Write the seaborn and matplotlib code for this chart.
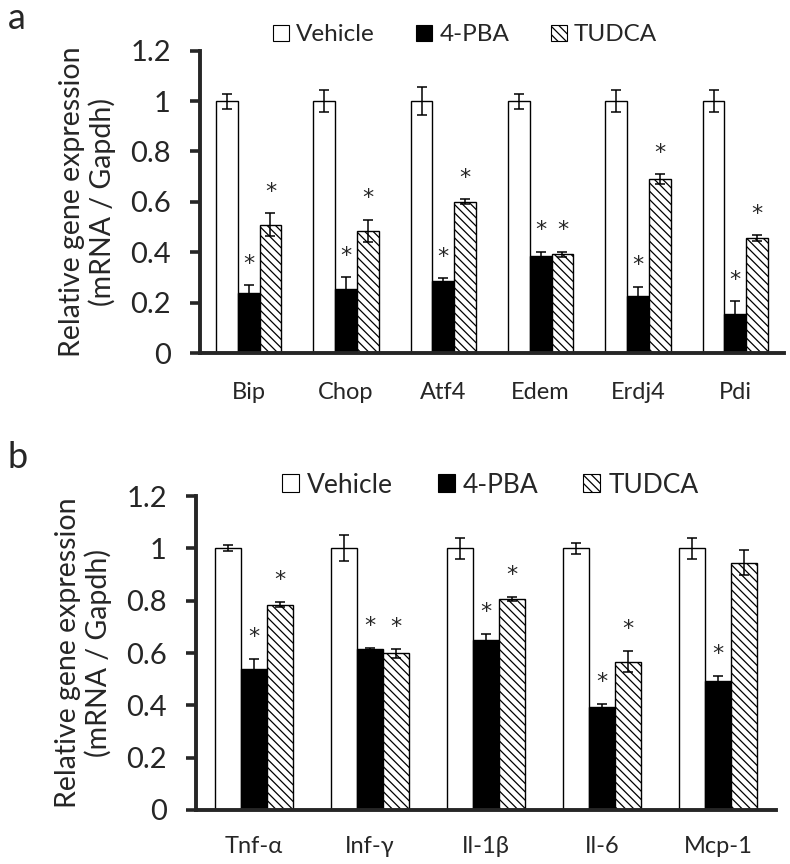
import pandas as pd
import matplotlib
matplotlib.use("Agg")
import matplotlib.pyplot as plt
from matplotlib.patches import Patch
import seaborn as sns

# Panel a: ER stress genes
genes_a = ['Bip', 'Chop', 'Atf4', 'Edem', 'Erdj4', 'Pdi']
vehicle_a = [1.0, 1.0, 1.0, 1.0, 1.0, 1.0]
vehicle_a_err = [0.03, 0.045, 0.055, 0.03, 0.045, 0.045]
pba_a = [0.24, 0.255, 0.285, 0.385, 0.227, 0.155]
pba_a_err = [0.03, 0.047, 0.012, 0.018, 0.037, 0.05]
tudca_a = [0.51, 0.485, 0.60, 0.393, 0.69, 0.456]
tudca_a_err = [0.045, 0.044, 0.01, 0.01, 0.02, 0.011]
stars_pba_a = [True, True, True, True, True, True]
stars_tudca_a = [True, True, True, True, True, True]

# Panel b: inflammatory genes
genes_b = ['Tnf-\u03b1', 'Inf-\u03b3', 'Il-1\u03b2', 'Il-6', 'Mcp-1']
vehicle_b = [1.0, 1.0, 1.0, 1.0, 1.0]
vehicle_b_err = [0.012, 0.05, 0.04, 0.021, 0.04]
pba_b = [0.538, 0.614, 0.65, 0.395, 0.494]
pba_b_err = [0.038, 0.006, 0.021, 0.011, 0.018]
tudca_b = [0.785, 0.599, 0.807, 0.566, 0.945]
tudca_b_err = [0.01, 0.017, 0.008, 0.04, 0.047]
stars_pba_b = [True, True, True, True, True]
stars_tudca_b = [True, True, True, True, False]

treatments = ['Vehicle', '4-PBA', 'TUDCA']
ticks = [0, 0.2, 0.4, 0.6, 0.8, 1.0, 1.2]
tick_labels = ['0', '0.2', '0.4', '0.6', '0.8', '1', '1.2']

sns.set_style("white")
plt.rcParams['font.family'] = ['Lato', 'DejaVu Sans']
plt.rcParams['hatch.linewidth'] = 0.9

HATCH = '\\\\\\\\'


def make_df(genes, veh, pba, tud):
    rows = []
    for g, v, p, t in zip(genes, veh, pba, tud):
        rows.append((g, 'Vehicle', v))
        rows.append((g, '4-PBA', p))
        rows.append((g, 'TUDCA', t))
    return pd.DataFrame(rows, columns=['gene', 'treatment', 'value'])


def draw_panel(ax, genes, veh, pba, tud, errs, stars, xpad, leg_x, leg_y, leg_fs):
    df = make_df(genes, veh, pba, tud)
    sns.barplot(data=df, x='gene', y='value', hue='treatment', hue_order=treatments,
                palette={'Vehicle': 'white', '4-PBA': 'black', 'TUDCA': 'white'},
                edgecolor='black', linewidth=1.0, width=0.67, gap=0,
                errorbar=None, legend=False, ax=ax)
    for patch in ax.containers[2]:
        patch.set_hatch(HATCH)
    for cont, err, star in zip(ax.containers, errs, stars):
        xs = [p.get_x() + p.get_width() / 2 for p in cont]
        ys = [p.get_height() for p in cont]
        ax.errorbar(xs, ys, yerr=err, fmt='none', ecolor='black',
                    elinewidth=1.1, capsize=3.3, capthick=1.1, zorder=5)
        if star is None:
            continue
        for x, y, e, s in zip(xs, ys, err, star):
            if s:
                ax.text(x, y + e + 0.085, '*', ha='center', va='center',
                        fontsize=16, family='DejaVu Sans')
    ax.set_ylim(0, 1.2)
    ax.set_xlim(-0.5, len(genes) - 0.5)
    ax.set_yticks(ticks)
    ax.set_yticklabels(tick_labels)
    ax.set_xlabel('')
    ax.set_ylabel('Relative gene expression\n(mRNA / Gapdh)', fontsize=20.5, labelpad=10,
                  linespacing=1.15)
    sns.despine(ax=ax)
    ax.spines['left'].set_linewidth(2.8)
    ax.spines['bottom'].set_linewidth(2.8)
    ax.tick_params(axis='y', direction='out', length=7, width=2.6,
                   labelsize=21, pad=14, left=True)
    ax.tick_params(axis='x', length=0, labelsize=17, pad=xpad)
    handles = [Patch(facecolor='white', edgecolor='black', linewidth=0.8),
               Patch(facecolor='black', edgecolor='black', linewidth=0.8),
               Patch(facecolor='white', edgecolor='black', linewidth=0.8, hatch=HATCH)]
    ax.legend(handles, treatments, loc='center', bbox_to_anchor=(leg_x, leg_y),
              ncol=3, frameon=False, fontsize=leg_fs, handlelength=0.65,
              handleheight=0.65, handletextpad=0.3, columnspacing=1.7,
              borderaxespad=0, borderpad=0)


fig = plt.figure(figsize=(7.9, 8.64), dpi=100)
ax_a = fig.add_axes([0.2532, 0.5914, 0.7392, 0.3499])
ax_b = fig.add_axes([0.2481, 0.0625, 0.7342, 0.3634])

draw_panel(ax_a, genes_a, vehicle_a, pba_a, tudca_a,
           [vehicle_a_err, pba_a_err, tudca_a_err],
           [None, stars_pba_a, stars_tudca_a], xpad=21,
           leg_x=0.454, leg_y=1.052, leg_fs=17.5)
draw_panel(ax_b, genes_b, vehicle_b, pba_b, tudca_b,
           [vehicle_b_err, pba_b_err, tudca_b_err],
           [None, stars_pba_b, stars_tudca_b], xpad=19,
           leg_x=0.507, leg_y=1.035, leg_fs=19)

fig.text(0.010, 0.979, 'a', fontsize=26, va='center', ha='left')
fig.text(0.010, 0.471, 'b', fontsize=26, va='center', ha='left')

fig.savefig('out.png', dpi=100)
